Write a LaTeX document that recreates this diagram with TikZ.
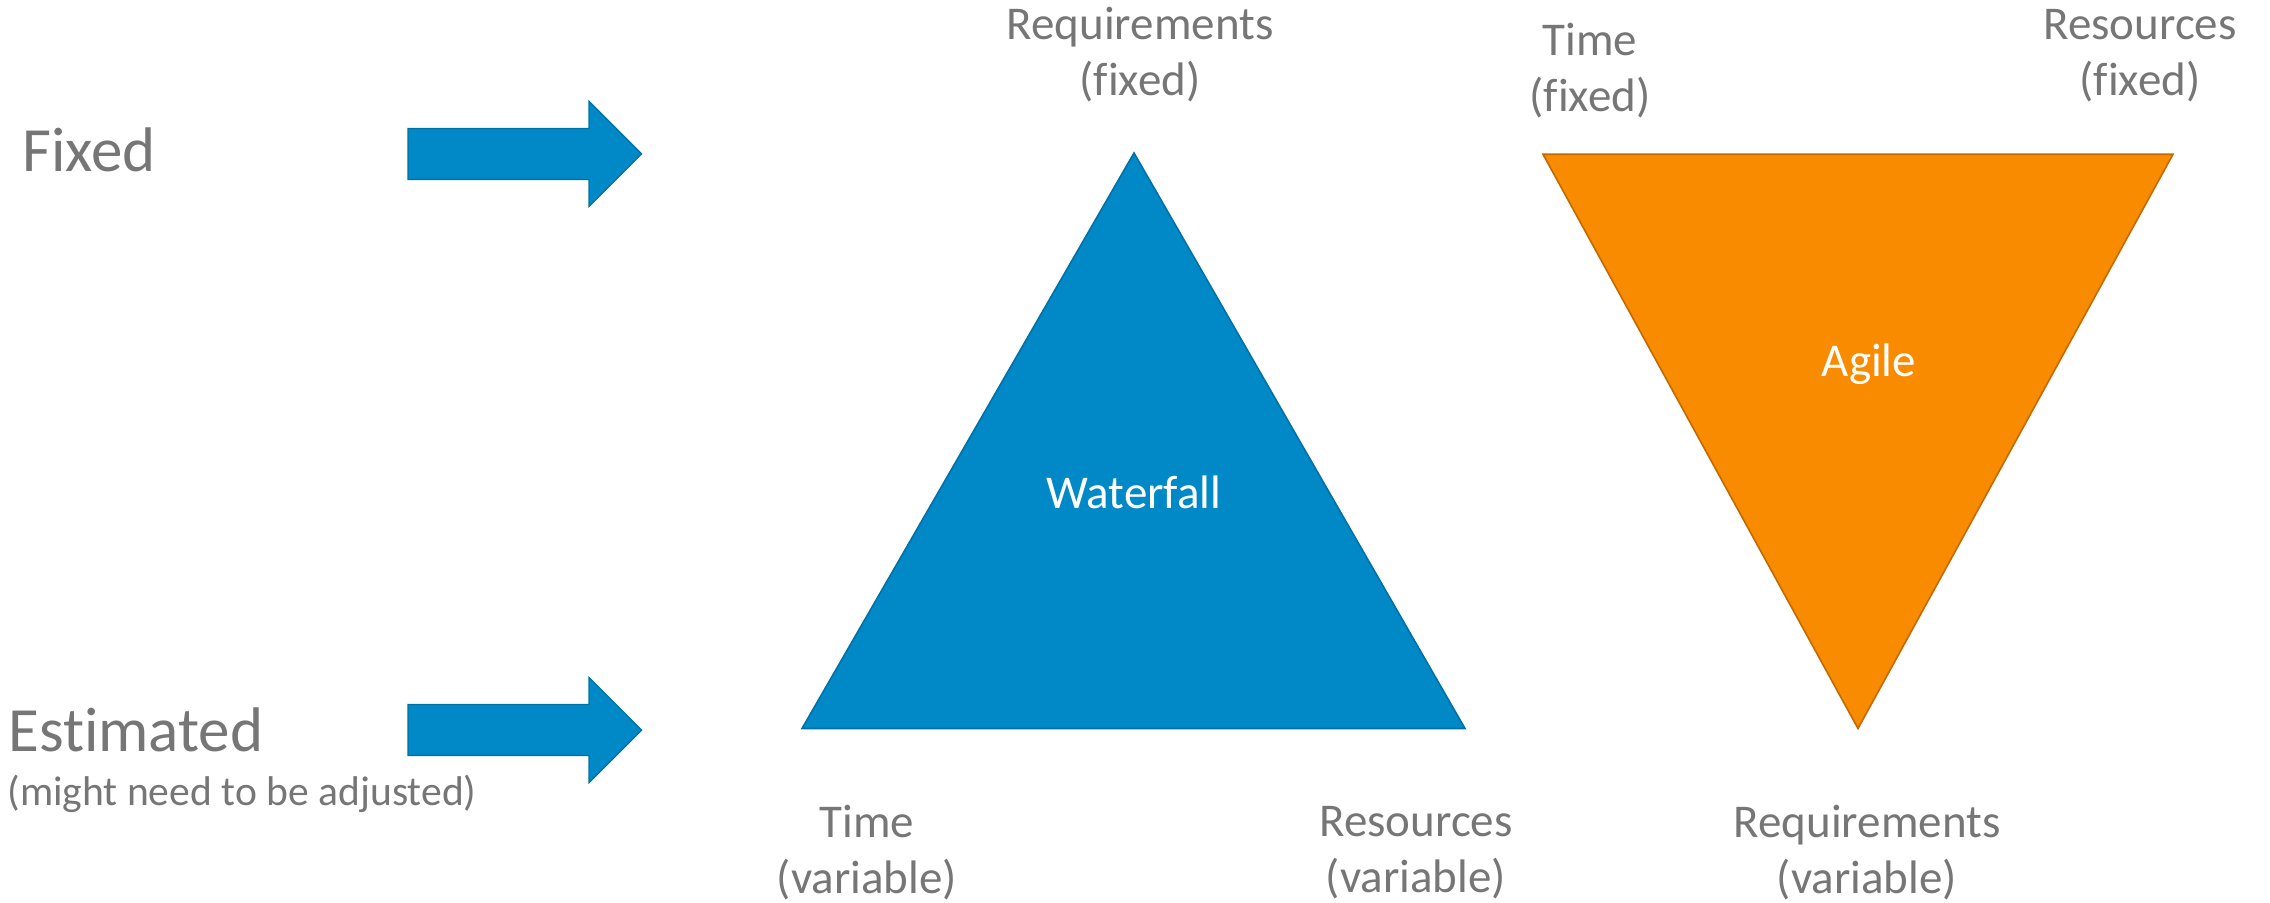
\documentclass[tikz,border=0pt]{standalone}
\usepackage{fontspec}
\setmainfont{Carlito}[Ligatures={NoCommon}]
\definecolor{wfblue}{HTML}{0089C6}
\definecolor{wfedge}{HTML}{0071A6}
\definecolor{agorange}{HTML}{F98B00}
\definecolor{agedge}{HTML}{C26A00}
\definecolor{txtgray}{HTML}{767676}
\tikzset{
  lbl/.style={text=txtgray, font=\fontsize{23.5pt}{28pt}\selectfont, align=center, inner sep=0pt},
  big/.style={text=txtgray, font=\fontsize{31.5pt}{36pt}\selectfont, anchor=west, inner sep=0pt},
  small/.style={text=txtgray, font=\fontsize{20.8pt}{24pt}\selectfont, anchor=west, inner sep=0pt},
  inner/.style={text=white, font=\fontsize{23.5pt}{28pt}\selectfont, inner sep=0pt},
  blockarrow/.style={fill=wfblue, draw=wfedge, line width=0.7pt, line join=miter},
  wf/.style={fill=wfblue, draw=wfedge, line width=0.8pt, line join=miter},
  ag/.style={fill=agorange, draw=agedge, line width=0.8pt, line join=miter}
}
\begin{document}
\begin{tikzpicture}[x=0.5pt, y=-0.5pt]
\useasboundingbox (0,0) rectangle (2270,903);
% left labels
\node[big] (fixed) at (22,150) {Fixed};
\node[big] (est) at (8,729.5) {Estimated};
\node[small] (adj) at (7,794) {(might need to be adjusted)};
% block arrows
\coordinate (a1) at (408,154);
\coordinate (a2) at (408,730);
\draw[blockarrow] (a1) ++(0,-25.5) -- ++(181,0) -- ++(0,-27) -- ++(52.5,52.5) -- ++(-52.5,52.5) -- ++(0,-27) -- ++(-181,0) -- cycle;
\draw[blockarrow] (a2) ++(0,-25.5) -- ++(181,0) -- ++(0,-27) -- ++(52.5,52.5) -- ++(-52.5,52.5) -- ++(0,-27) -- ++(-181,0) -- cycle;
% waterfall triangle
\coordinate (wtop) at (1134,153);
\coordinate (wl) at (802,728.5);
\coordinate (wr) at (1465,728.5);
\draw[wf] (wtop) -- (wr) -- (wl) -- cycle;
\node[inner] (wname) at (1134,492) {Waterfall};
\node[lbl] (wreq) at (1140,55) {Requirements\\(fixed)};
\node[lbl] (wtime) at (867,853) {Time\\(variable)};
\node[lbl] (wres) at (1416,853) {Resources\\(variable)};
% agile triangle
\coordinate (atl) at (1543,154.3);
\coordinate (atr) at (2173,154.3);
\coordinate (abot) at (1858,728.5);
\draw[ag] (atl) -- (atr) -- (abot) -- cycle;
\node[inner] (aname) at (1869,364) {Agile};
\node[lbl] (atime) at (1590,71) {Time\\(fixed)};
\node[lbl] (ares) at (2140,56) {Resources\\(fixed)};
\node[lbl] (areq) at (1867,853) {Requirements\\(variable)};
\end{tikzpicture}
\end{document}
